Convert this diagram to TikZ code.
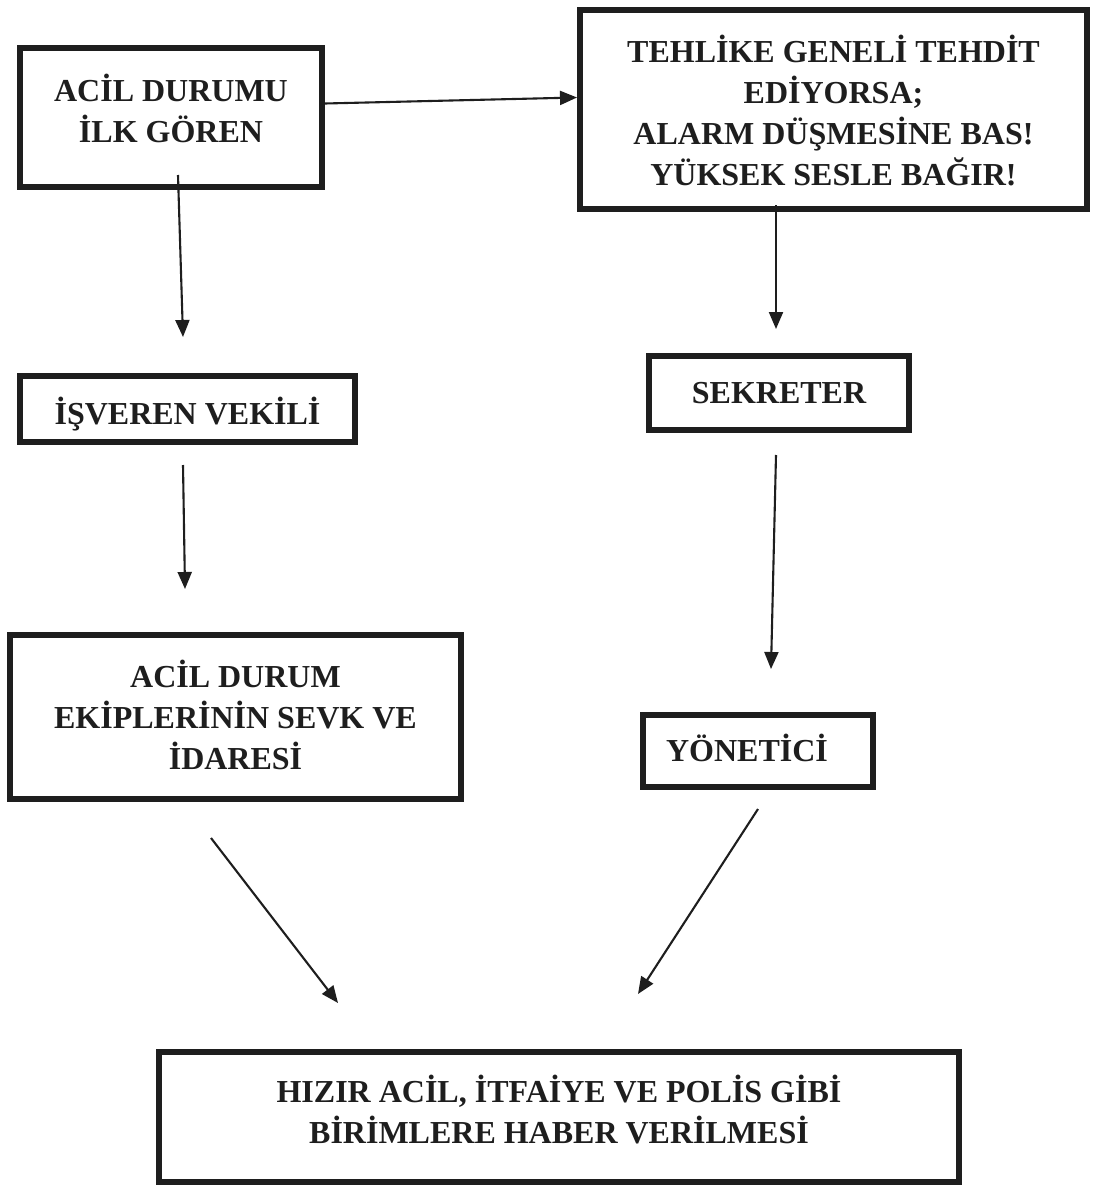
\documentclass[tikz,border=0pt]{standalone}
\usepackage{fontspec}
\setmainfont{Liberation Serif}
\usetikzlibrary{arrows.meta}
\definecolor{ink}{HTML}{1E1E1E}
\begin{document}
\begin{tikzpicture}[x=1pt,y=-1pt,
  box/.style={draw=ink,line width=6pt,rectangle,inner sep=0pt},
  txt/.style={align=center,inner sep=0pt,text=ink,
    font=\fontsize{32}{41}\selectfont\bfseries},
  arr/.style={draw=ink,line width=2.1pt,-{Triangle[length=17pt,width=14pt]}}]
\useasboundingbox (0,0) rectangle (1101,1191);
\fill[white] (0,0) rectangle (1101,1191);
\node[box,minimum width=302pt,minimum height=139pt] (b1) at (171,117.5) {};
\node[txt] (t1) at ([yshift=9.5pt]b1.center) {ACİL DURUMU\\İLK GÖREN};
\node[box,minimum width=507pt,minimum height=199pt] (b2) at (833.5,109.5) {};
\node[txt] (t2) at ([yshift=-1pt]b2.center)
  {TEHLİKE GENELİ TEHDİT\\EDİYORSA;\\ALARM DÜŞMESİNE BAS!\\YÜKSEK SESLE BAĞIR!};
\node[box,minimum width=335pt,minimum height=66pt] (b3) at (187.5,409) {};
\node[txt] (t3) at ([yshift=-5pt]b3.center) {İŞVEREN VEKİLİ};
\node[box,minimum width=260pt,minimum height=74pt] (b4) at (779,393) {};
\node[txt] (t4) at (b4.center) {SEKRETER};
\node[box,minimum width=451pt,minimum height=164pt] (b5) at (235.5,717) {};
\node[txt] (t5) at ([yshift=2.5pt]b5.center) {ACİL DURUM\\EKİPLERİNİN SEVK VE\\İDARESİ};
\node[box,minimum width=230pt,minimum height=72pt] (b6) at (758,751) {};
\node[txt] (t6) at ([xshift=-11pt,yshift=3pt]b6.center) {YÖNETİCİ};
\node[box,minimum width=800pt,minimum height=130pt] (b7) at (559,1117) {};
\node[txt] (t7) at ([yshift=7pt]b7.center)
  {HIZIR ACİL, İTFAİYE VE POLİS GİBİ\\BİRİMLERE HABER VERİLMESİ};
\draw[arr] ([yshift=14pt]b1.east) -- ([yshift=12pt]b2.west);
\draw[arr] ([xshift=7pt,yshift=15pt]b1.south) -- ([xshift=-4.5pt,yshift=36pt]b3.north);
\draw[arr] ([xshift=-57.5pt,yshift=7pt]b2.south) -- ([xshift=-3pt,yshift=24pt]b4.north);
\draw[arr] ([xshift=-4.5pt,yshift=-20pt]b3.south) -- ([xshift=-50.5pt,yshift=43pt]b5.north);
\draw[arr] ([xshift=-3pt,yshift=-22pt]b4.south) -- ([xshift=13pt,yshift=43pt]b6.north);
\draw[arr] ([xshift=-24.5pt,yshift=-36pt]b5.south) -- ([xshift=-221pt,yshift=46pt]b7.north);
\draw[arr] ([yshift=-19pt]b6.south) -- ([xshift=79pt,yshift=55pt]b7.north);
\end{tikzpicture}
\end{document}
